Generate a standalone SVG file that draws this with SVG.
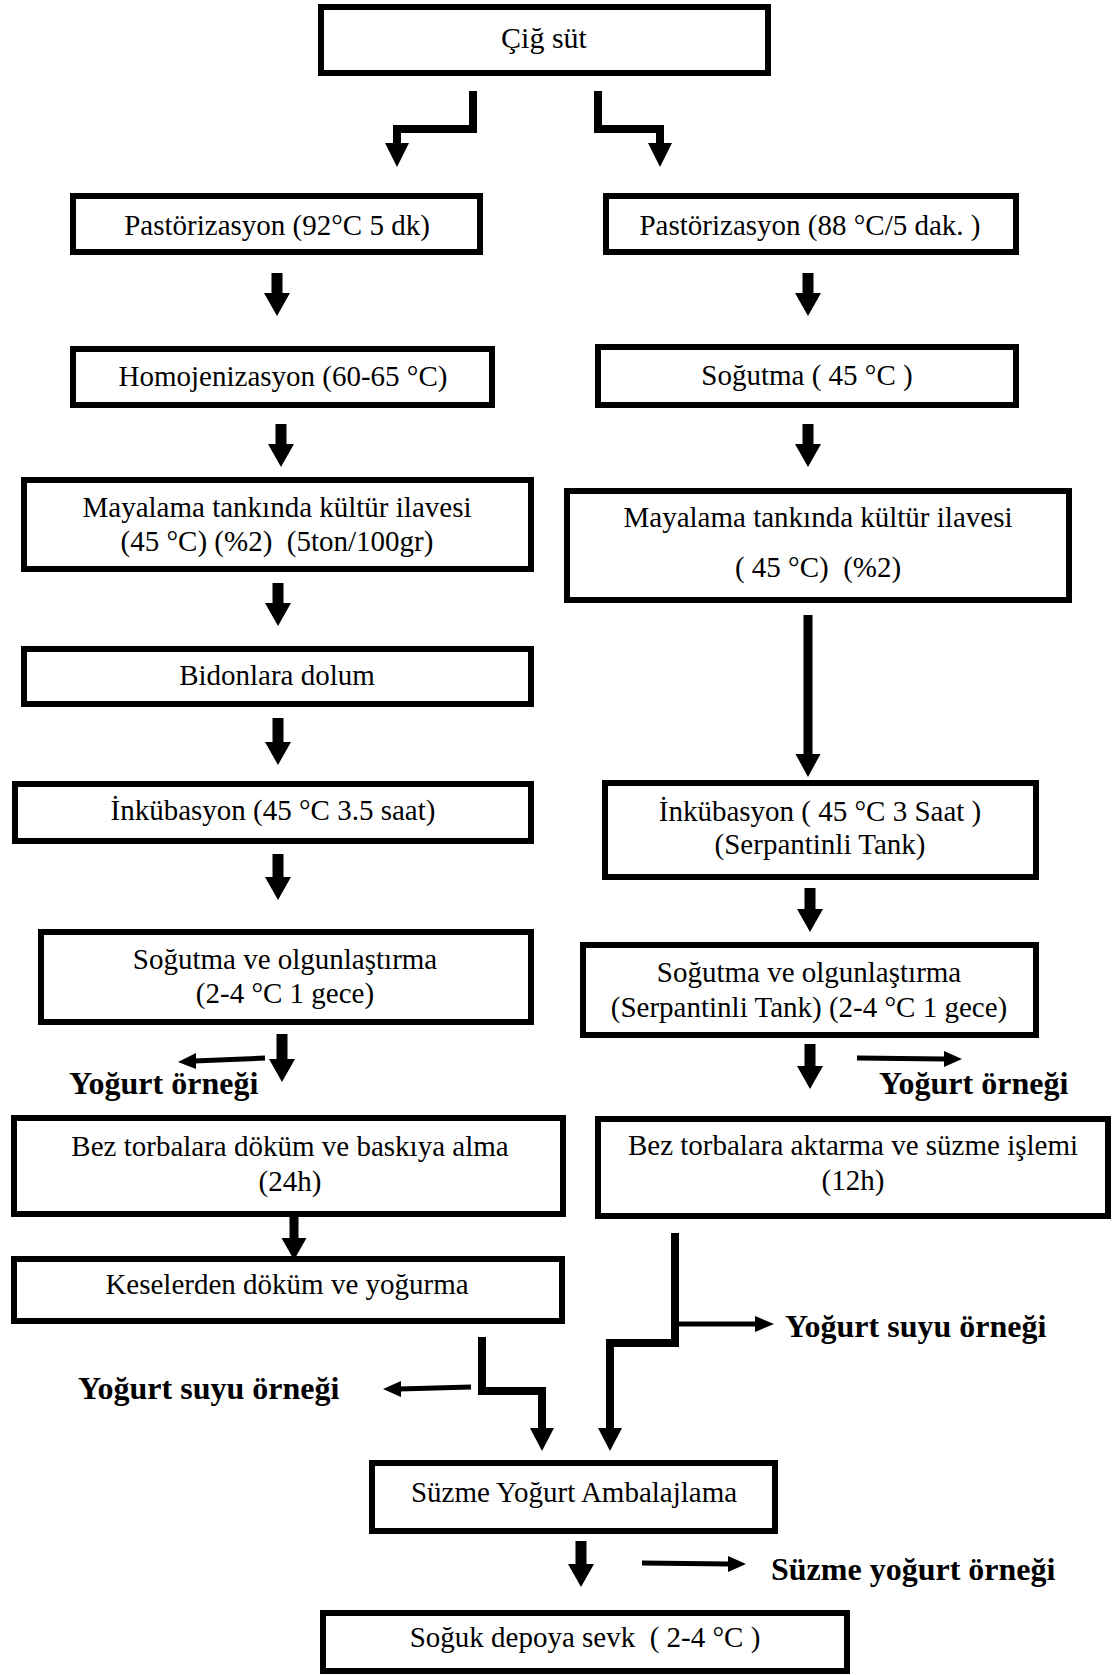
<svg xmlns="http://www.w3.org/2000/svg" width="1118" height="1675" viewBox="0 0 1118 1675">
<style>
.box{fill:#fff;stroke:#000;stroke-width:6}
.t{font-family:"Liberation Serif","Times New Roman",serif;font-size:29px;fill:#000;text-anchor:middle;white-space:pre}
.b{font-family:"Liberation Serif","Times New Roman",serif;font-size:32px;font-weight:bold;fill:#000}
.ar{fill:#000}
.ln{fill:none;stroke:#000;stroke-width:8;stroke-linejoin:miter;stroke-linecap:butt}
.th{fill:none;stroke:#000;stroke-width:5}
</style>
<rect width="1118" height="1675" fill="#fff"/>
<g id="connectors">
<polyline class="ln" points="473,91 473,129 397,129 397,145"/>
<polygon class="ar" points="385,143 409,143 397,167"/>
<polyline class="ln" points="598,91 598,129 660,129 660,145"/>
<polygon class="ar" points="648,143 672,143 660,167"/>
<polygon class="ar" points="271.5,273 282.5,273 282.5,293 290,293 277,316 264,293 271.5,293"/>
<polygon class="ar" points="802.5,273 813.5,273 813.5,293 821,293 808,316 795,293 802.5,293"/>
<polygon class="ar" points="275.5,424 286.5,424 286.5,444 294,444 281,467 268,444 275.5,444"/>
<polygon class="ar" points="802.5,424 813.5,424 813.5,444 821,444 808,467 795,444 802.5,444"/>
<polygon class="ar" points="272.5,583 283.5,583 283.5,603 291,603 278,626 265,603 272.5,603"/>
<polygon class="ar" points="272.5,718 283.5,718 283.5,742 291,742 278,765 265,742 272.5,742"/>
<polygon class="ar" points="803.5,615 812.5,615 812.5,754 820.5,754 808,777 795.5,754 803.5,754"/>
<polygon class="ar" points="272.5,854 283.5,854 283.5,877 291,877 278,900 265,877 272.5,877"/>
<polygon class="ar" points="804.5,888 815.5,888 815.5,909 823,909 810,932 797,909 804.5,909"/>
<polygon class="ar" points="276.5,1034 287.5,1034 287.5,1059 295,1059 282,1082 269,1059 276.5,1059"/>
<polygon class="ar" points="804.5,1044 815.5,1044 815.5,1066 823,1066 810,1089 797,1066 804.5,1066"/>
<polygon class="ar" points="289.5,1217 298.5,1217 298.5,1238 306.5,1238 294,1260 281.5,1238 289.5,1238"/>
<polygon class="ar" points="575.5,1541 586.5,1541 586.5,1564 594,1564 581,1587 568,1564 575.5,1564"/>
<line class="th" x1="265" y1="1058" x2="194" y2="1061"/>
<polygon class="ar" points="196,1053 196,1069 178,1062"/>
<line class="th" x1="857" y1="1058" x2="945" y2="1059"/>
<polygon class="ar" points="944,1051 944,1067 962,1059"/>
<polyline class="ln" points="482,1337 482,1391 542,1391 542,1430"/>
<polygon class="ar" points="530,1428 554,1428 542,1451"/>
<line class="th" x1="471" y1="1387" x2="399" y2="1389"/>
<polygon class="ar" points="401,1381 401,1397 383,1389"/>
<polyline class="ln" points="675,1233 675,1343 610,1343 610,1430"/>
<polygon class="ar" points="598,1428 622,1428 610,1451"/>
<line class="th" x1="675" y1="1324" x2="757" y2="1324"/>
<polygon class="ar" points="755,1316 755,1332 774,1324"/>
<line class="th" x1="642" y1="1563" x2="729" y2="1564"/>
<polygon class="ar" points="728,1556 728,1572 746,1564"/>
</g>
<g id="n1"><rect class="box" x="321" y="7" width="447" height="66"/><text class="t" x="544" y="48" style="font-size:30px">Çiğ süt</text></g>
<g id="n2"><rect class="box" x="73" y="196" width="407" height="56"/><text class="t" x="277" y="235">Pastörizasyon (92°C 5 dk)</text></g>
<g id="n3"><rect class="box" x="606" y="196" width="410" height="56"/><text class="t" x="810" y="235">Pastörizasyon (88 °C/5 dak. )</text></g>
<g id="n4"><rect class="box" x="73" y="349" width="419" height="56"/><text class="t" x="283" y="386">Homojenizasyon (60-65 °C)</text></g>
<g id="n5"><rect class="box" x="598" y="347" width="418" height="58"/><text class="t" x="807" y="385">Soğutma ( 45 °C )</text></g>
<g id="n6"><rect class="box" x="24" y="480" width="507" height="89"/><text class="t" x="277" y="517">Mayalama tankında kültür ilavesi</text><text class="t" x="277" y="551">(45 °C) (%2)  (5ton/100gr)</text></g>
<g id="n7"><rect class="box" x="567" y="491" width="502" height="109"/><text class="t" x="818" y="527">Mayalama tankında kültür ilavesi</text><text class="t" x="818" y="577">( 45 °C)  (%2)</text></g>
<g id="n8"><rect class="box" x="24" y="649" width="507" height="55"/><text class="t" x="277" y="685">Bidonlara dolum</text></g>
<g id="n9"><rect class="box" x="15" y="784" width="516" height="57"/><text class="t" x="273" y="820">İnkübasyon (45 °C 3.5 saat)</text></g>
<g id="n10"><rect class="box" x="605" y="783" width="431" height="94"/><text class="t" x="820" y="821">İnkübasyon ( 45 °C 3 Saat )</text><text class="t" x="820" y="854">(Serpantinli Tank)</text></g>
<g id="n11"><rect class="box" x="41" y="932" width="490" height="90"/><text class="t" x="285" y="969">Soğutma ve olgunlaştırma</text><text class="t" x="285" y="1003">(2-4 °C 1 gece)</text></g>
<g id="n12"><rect class="box" x="583" y="945" width="453" height="90"/><text class="t" x="809" y="982">Soğutma ve olgunlaştırma</text><text class="t" x="809" y="1017">(Serpantinli Tank) (2-4 °C 1 gece)</text></g>
<g id="n13"><rect class="box" x="14" y="1118" width="549" height="96"/><text class="t" x="290" y="1156">Bez torbalara döküm ve baskıya alma</text><text class="t" x="290" y="1191">(24h)</text></g>
<g id="n14"><rect class="box" x="598" y="1119" width="510" height="97"/><text class="t" x="853" y="1155">Bez torbalara aktarma ve süzme işlemi</text><text class="t" x="853" y="1190">(12h)</text></g>
<g id="n15"><rect class="box" x="14" y="1259" width="548" height="62"/><text class="t" x="287" y="1294">Keselerden döküm ve yoğurma</text></g>
<g id="n16"><rect class="box" x="372" y="1463" width="403" height="68"/><text class="t" x="574" y="1502">Süzme Yoğurt Ambalajlama</text></g>
<g id="n17"><rect class="box" x="323" y="1613" width="524" height="58"/><text class="t" x="585" y="1647">Soğuk depoya sevk  ( 2-4 °C )</text></g>
<g id="labels">
<text class="b" x="69" y="1094">Yoğurt örneği</text>
<text class="b" x="879" y="1094">Yoğurt örneği</text>
<text class="b" x="785" y="1337">Yoğurt suyu örneği</text>
<text class="b" x="78" y="1399">Yoğurt suyu örneği</text>
<text class="b" x="771" y="1580">Süzme yoğurt örneği</text>
</g>
</svg>
